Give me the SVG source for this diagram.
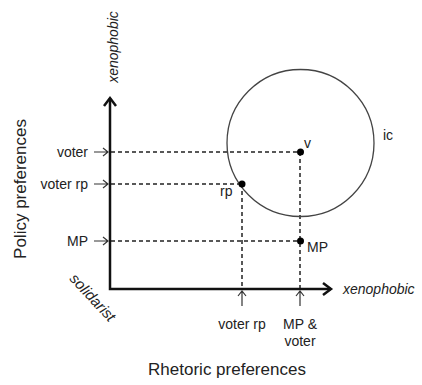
<svg xmlns="http://www.w3.org/2000/svg" width="422" height="385" viewBox="0 0 422 385">
<style>
text{font-family:"Liberation Sans",Arial,sans-serif;fill:#222;}
.lbl{font-size:14px;}
.it{font-size:14px;font-style:italic;}
.big{font-size:17px;}
.axis{stroke:#111;stroke-width:2.5;fill:none;}
.dash{stroke:#222;stroke-width:1.5;stroke-dasharray:4 3;fill:none;}
.tick{stroke:#333;stroke-width:1.2;fill:none;}
</style>
<rect width="422" height="385" fill="#fff"/>
<g id="connectors">
<path class="dash" d="M111 152H300M111 184H242M111 241H300M242 184V289M300 152V289"/>
<path class="axis" d="M110 98V289H331"/>
<path class="axis" d="M104 106L110 98L116 106M323 283L331 289L323 295"/>
<path class="tick" d="M94 152H108M103 148L108 152L103 156"/>
<path class="tick" d="M94 184H108M103 180L108 184L103 188"/>
<path class="tick" d="M94 241H108M103 237L108 241L103 245"/>
<path class="tick" d="M242 306V291M238 296L242 291L246 296"/>
<path class="tick" d="M300 306V291M296 296L300 291L304 296"/>
</g>
<g id="ic"><circle cx="300.5" cy="143" r="73.5" fill="none" stroke="#444" stroke-width="1.3"/><text class="lbl" x="383" y="140">ic</text></g>
<g id="v"><circle cx="300.5" cy="152" r="3.5" fill="#000"/><text class="lbl" x="304" y="148">v</text></g>
<g id="rp"><circle cx="242" cy="184" r="3.5" fill="#000"/><text class="lbl" x="220" y="196">rp</text></g>
<g id="mp"><circle cx="300.5" cy="241" r="3.5" fill="#000"/><text class="lbl" x="307" y="252">MP</text></g>
<g id="ylabels">
<text class="lbl" x="88" y="157" text-anchor="end">voter</text>
<text class="lbl" x="88" y="189" text-anchor="end">voter rp</text>
<text class="lbl" x="88" y="246" text-anchor="end">MP</text>
</g>
<g id="xlabels">
<text class="lbl" x="242" y="329" text-anchor="middle">voter rp</text>
<text class="lbl" x="300" y="329" text-anchor="middle">MP &amp;</text>
<text class="lbl" x="300" y="346" text-anchor="middle">voter</text>
</g>
<g id="axislabels">
<text class="it" transform="translate(118 47) rotate(-90)" text-anchor="middle">xenophobic</text>
<text class="it" x="343" y="294">xenophobic</text>
<text class="it" style="font-size:15px" transform="translate(89 301) rotate(47)" text-anchor="middle">solidarist</text>
<text class="big" transform="translate(26 189) rotate(-90)" text-anchor="middle">Policy preferences</text>
<text class="big" x="227" y="375" text-anchor="middle">Rhetoric preferences</text>
</g>
</svg>
